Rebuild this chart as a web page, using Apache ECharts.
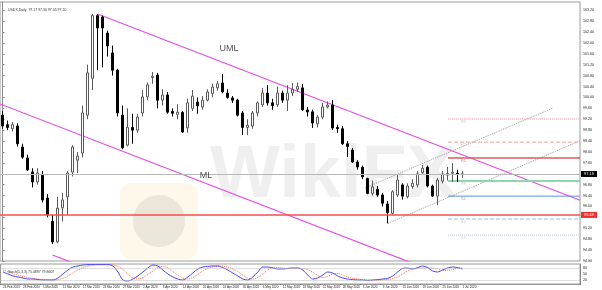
<!DOCTYPE html>
<html><head><meta charset="utf-8">
<script src="https://cdn.jsdelivr.net/npm/echarts@6/dist/echarts.min.js"></script>
<style>html,body{margin:0;padding:0;background:#fff}#c{width:602px;height:290px}</style>
</head><body><div id="c"></div>
<script>
const dates = ['24 Feb 2020','25 Feb 2020','26 Feb 2020','27 Feb 2020','28 Feb 2020',
'2 Mar 2020','3 Mar 2020','4 Mar 2020','5 Mar 2020','6 Mar 2020','9 Mar 2020','10 Mar 2020','11 Mar 2020','12 Mar 2020','13 Mar 2020','16 Mar 2020','17 Mar 2020','18 Mar 2020','19 Mar 2020','20 Mar 2020','23 Mar 2020','24 Mar 2020','25 Mar 2020','26 Mar 2020','27 Mar 2020','30 Mar 2020','31 Mar 2020',
'1 Apr 2020','2 Apr 2020','3 Apr 2020','6 Apr 2020','7 Apr 2020','8 Apr 2020','9 Apr 2020','10 Apr 2020','13 Apr 2020','14 Apr 2020','15 Apr 2020','16 Apr 2020','17 Apr 2020','20 Apr 2020','21 Apr 2020','22 Apr 2020','23 Apr 2020','24 Apr 2020','27 Apr 2020','28 Apr 2020','29 Apr 2020','30 Apr 2020',
'1 May 2020','4 May 2020','5 May 2020','6 May 2020','7 May 2020','8 May 2020','11 May 2020','12 May 2020','13 May 2020','14 May 2020','15 May 2020','18 May 2020','19 May 2020','20 May 2020','21 May 2020','22 May 2020','25 May 2020','26 May 2020','27 May 2020','28 May 2020','29 May 2020',
'1 Jun 2020','2 Jun 2020','3 Jun 2020','4 Jun 2020','5 Jun 2020','8 Jun 2020','9 Jun 2020','10 Jun 2020','11 Jun 2020','12 Jun 2020','15 Jun 2020','16 Jun 2020','17 Jun 2020','18 Jun 2020','19 Jun 2020','22 Jun 2020','23 Jun 2020','24 Jun 2020','25 Jun 2020','26 Jun 2020','29 Jun 2020','30 Jun 2020',
'1 Jul 2020'];
const futureSlots = ['f1','f2','f3','f4','f5','f6','f7','f8','f9','f10','f11','f12','f13','f14','f15','f16','f17','f18','f19','f20','f21','f22','f23'];

const opens  = [99.35,99.00,98.85,98.95,98.18,97.78,97.26,96.90,97.15,96.31,95.45,94.70,95.95,96.35,97.26,97.70,97.96,99.35,100.70,103.00,102.95,102.36,101.63,101.00,99.35,98.25,98.90,98.80,99.43,100.02,100.73,100.82,99.90,100.09,99.48,99.38,99.45,98.88,99.60,99.83,99.65,99.90,100.15,100.35,100.53,100.16,99.98,99.90,99.43,98.90,98.95,99.43,99.73,100.16,99.80,99.73,100.16,99.90,100.16,100.30,100.35,99.54,99.47,99.03,99.28,99.65,99.72,98.90,98.85,98.30,98.07,97.63,97.44,97.03,96.48,96.63,96.42,96.09,95.75,96.42,96.79,96.36,96.73,96.79,97.24,97.44,96.75,96.38,96.93,97.15,97.22,97.22,97.17];
const highs  = [99.50,99.15,99.10,99.05,98.30,97.90,97.40,97.40,97.30,96.45,95.70,96.35,96.50,97.30,98.25,98.00,99.70,101.20,103.06,103.06,103.00,102.45,101.90,101.05,99.70,99.60,99.40,99.40,100.27,100.55,100.93,100.90,100.30,100.20,99.60,99.75,99.50,99.95,100.27,100.00,100.05,100.30,100.50,100.60,100.86,100.30,100.05,99.95,99.50,99.20,99.50,99.85,100.35,100.45,99.95,100.40,100.25,100.45,100.53,100.55,100.50,99.65,99.55,99.35,99.80,99.85,99.90,99.00,98.95,98.40,98.15,97.70,97.50,97.05,96.95,96.75,96.50,96.20,96.60,97.15,96.85,96.85,97.00,97.30,97.52,97.50,96.80,97.05,97.30,97.45,97.59,97.35,97.30];
const lows   = [98.85,98.80,98.75,98.20,97.75,97.30,96.70,96.80,96.15,95.60,94.62,94.65,95.45,95.70,97.10,97.23,97.80,99.20,100.27,101.00,101.10,101.50,100.80,99.30,98.10,98.20,98.30,98.70,99.30,99.90,100.50,99.60,99.70,99.40,99.30,99.20,98.70,98.70,99.50,99.40,99.55,99.85,100.00,100.25,100.15,99.95,99.80,99.30,98.62,98.62,98.85,99.30,99.65,99.70,99.55,99.65,99.80,99.50,100.05,100.20,99.50,99.30,98.88,98.90,99.20,99.60,98.80,98.70,98.25,97.81,97.60,97.35,97.00,96.45,96.40,96.35,96.00,95.38,95.70,96.35,96.25,96.30,96.65,96.70,97.20,96.70,96.35,96.05,96.85,96.95,96.90,96.90,97.05];
const closes = [98.95,98.90,99.00,98.30,97.81,97.34,96.90,97.23,96.24,95.69,94.70,95.94,96.24,97.23,98.18,97.85,99.43,100.90,103.00,102.55,102.55,101.89,101.00,99.43,98.15,98.90,98.80,99.28,100.02,100.46,100.78,99.90,100.09,99.46,99.42,99.46,98.73,99.80,100.05,99.69,99.90,100.20,100.38,100.50,100.20,100.00,99.90,99.35,98.90,98.98,99.43,99.80,100.16,99.80,99.70,100.16,99.90,100.16,100.30,100.40,99.54,99.47,99.06,99.28,99.65,99.72,98.88,98.85,98.30,98.20,97.63,97.45,97.09,96.48,96.72,96.42,96.12,95.77,96.54,96.97,96.38,96.75,96.85,97.20,97.40,96.75,96.38,96.97,97.19,97.21,97.26,97.18,97.20];

const stochMain   = [60,50,40,35,30,25,25,22,20,20,20,30,50,70,85,90,95,97,97,97,97,97,90,60,20,15,25,40,60,80,95,90,70,50,35,25,20,35,55,75,85,88,90,90,82,70,55,40,25,20,35,60,85,85,80,75,75,78,80,80,70,45,25,30,45,60,55,40,30,25,22,20,20,18,20,22,25,28,40,60,78,80,75,82,90,82,65,60,70,80,85,82,75];
const stochSignal = [70,62,52,44,38,32,28,25,22,21,20,22,28,40,55,70,82,90,95,97,97,97,96,88,72,50,30,25,32,48,65,82,88,80,62,45,30,25,32,48,65,78,86,89,89,85,75,62,45,30,25,32,50,70,82,83,80,77,77,78,78,72,58,42,32,38,50,52,45,35,28,24,21,20,19,19,21,23,27,35,50,65,75,78,80,82,80,75,68,68,72,78,80];

const yTicksMain = {min: 94, max: 103.5, step: 0.4};
const lastPrice = 97.19;
const supportLevel = 95.69;

// Andrews pitchfork and channel: [barIndex, price] endpoints
const umlLine = [[19, 103.06], [115.5, 96.23]];
const mlLine  = [[-0.5, 99.76], [115.5, 91.55]];
const lmlLine = [[10, 94.22], [40, 92.1]];
const chanUpper = [[72.5, 96.68], [110.1, 99.61]];
const chanLower = [[77.1, 95.38], [115.5, 98.41]];

const pivotNames  = ['R3','R2','R1','PP','S1','S2','S3'];
const pivotValues = [99.21, 98.36, 97.78, 96.93, 96.38, 95.54, 94.95];
const pivotStart = 89.1, pivotEnd = 115.5, pivotLabelAt = 92.2;
const pivotColors = ['#e9a3a3','#e9a3a3','#d95c5c','#8ed7ae','#5b8ee0','#9fbbe8','#b6cbef'];
const pivotTypes  = ['dotted','dashed','solid','solid','solid','dashed','dotted'];
const pivotWidths = [1,1,1.5,2,1,1,1];

const cats = dates.concat(futureSlots);
const nBars = dates.length;
const candleData = dates.map((d, i) => [opens[i], closes[i], lows[i], highs[i]]);

const chart = echarts.init(document.getElementById('c'), null, {renderer: 'canvas'});

const lineStyleSeries = (name, data, color, type, width) => ({
  name, type: 'line', xAxisIndex: 2, yAxisIndex: 0, data, showSymbol: false, symbol: 'none',
  lineStyle: {color, type, width}, silent: true, clip: true, z: 3, animation: false
});

const series = [
  {
    type: 'candlestick', xAxisIndex: 0, yAxisIndex: 0, data: candleData, barWidth: 3,
    itemStyle: {color: '#ffffff', color0: '#000000', borderColor: '#5a5a5a', borderColor0: '#000000', borderWidth: 1},
    z: 4,
    markLine: {
      symbol: 'none', silent: true, animation: false,
      data: [
        {yAxis: lastPrice, lineStyle: {color: '#b8b8b8', width: 1, type: 'solid'},
         label: {show: true, position: 'end', distance: 1, formatter: lastPrice.toFixed(2), color: '#fff', backgroundColor: '#000', fontSize: 4, padding: [1, 3]}},
        {yAxis: supportLevel, lineStyle: {color: '#f05050', width: 1.5, type: 'solid'},
         label: {show: true, position: 'end', distance: 1, formatter: supportLevel.toFixed(2), color: '#fff', backgroundColor: '#e8322f', fontSize: 4, padding: [1, 3]}}
      ]
    }
  },
  lineStyleSeries('UML', umlLine, '#e64ce6', 'solid', 1.2),
  lineStyleSeries('ML', mlLine, '#e64ce6', 'solid', 1.2),
  lineStyleSeries('LML', lmlLine, '#e64ce6', 'solid', 1.2),
  lineStyleSeries('chanU', chanUpper, '#9a9a9a', 'dotted', 1),
  lineStyleSeries('chanL', chanLower, '#9a9a9a', 'dotted', 1)
];
pivotNames.forEach((n, k) => {
  series.push(lineStyleSeries(n, [[pivotStart, pivotValues[k]], [pivotEnd, pivotValues[k]]], pivotColors[k], pivotTypes[k], pivotWidths[k]));
});
series.push({
  type: 'scatter', xAxisIndex: 2, yAxisIndex: 0, symbolSize: 0, silent: true, z: 5,
  data: pivotNames.map((n, k) => ({name: n, value: [pivotLabelAt, pivotValues[k]],
    label: {show: true, position: 'bottom', distance: 1, formatter: n, fontSize: 4, color: pivotColors[k]}}))
});
series.push({
  type: 'scatter', xAxisIndex: 2, yAxisIndex: 0, symbolSize: 0, silent: true, z: 5,
  data: [
    {name: 'UML', value: [45.3, 101.81]},
    {name: 'ML', value: [40.7, 97.15]}
  ],
  label: {show: true, position: 'inside', formatter: p => p.name, fontSize: 9, color: '#222', fontFamily: 'Liberation Sans, Arial'}
});
series.push({
  name: 'main', type: 'line', xAxisIndex: 1, yAxisIndex: 1, data: stochMain, showSymbol: false, symbol: 'none',
  lineStyle: {color: '#4646ff', width: 1}, smooth: 0.3, z: 4,
  markLine: {symbol: 'none', silent: true, animation: false, label: {show: false},
    lineStyle: {color: '#bdbdbd', type: 'dotted', width: 1},
    data: [{yAxis: 80}, {yAxis: 20}]}
});
series.push({
  name: 'signal', type: 'line', xAxisIndex: 1, yAxisIndex: 1, data: stochSignal, showSymbol: false, symbol: 'none',
  lineStyle: {color: '#ff6f4f', width: 1, type: 'dotted'}, smooth: 0.3, z: 3
});

const option = {
  animation: false,
  backgroundColor: '#ffffff',
  title: [
    {text: 'USDX,Daily  97.17 97.30 97.05 97.20', left: 3, top: 3, textStyle: {fontSize: 3.5, fontWeight: 'normal', color: '#333'}},
    {text: 'Stoch(5,3,3) 75.4897 79.8607', left: 3, top: 265, textStyle: {fontSize: 3.5, fontWeight: 'normal', color: '#333'}}
  ],
  grid: [
    {left: 0, right: 22, top: 2, height: 259, show: true, borderColor: '#9a9a9a', borderWidth: 1, backgroundColor: 'transparent'},
    {left: 0, right: 22, top: 264, height: 20, show: true, borderColor: '#9a9a9a', borderWidth: 1, backgroundColor: 'transparent'}
  ],
  xAxis: [
    {type: 'category', gridIndex: 0, data: cats, boundaryGap: true,
     axisLine: {show: false}, axisTick: {show: false}, axisLabel: {show: false}, splitLine: {show: false}},
    {type: 'category', gridIndex: 1, data: cats, boundaryGap: true,
     axisLine: {show: true, lineStyle: {color: '#9a9a9a'}},
     axisTick: {show: true, length: 1, interval: (i) => i < nBars && i % 4 === 0, lineStyle: {color: '#777'}},
     axisLabel: {show: true, fontSize: 3, color: '#222', margin: 1.5, align: 'left',
       interval: (i) => i < nBars && i % 4 === 0},
     splitLine: {show: false}},
    {type: 'value', gridIndex: 0, min: -0.5, max: cats.length - 0.5, show: false, splitLine: {show: false}}
  ],
  yAxis: [
    {type: 'value', gridIndex: 0, position: 'right', min: yTicksMain.min, max: yTicksMain.max, interval: yTicksMain.step,
     axisLine: {show: true, lineStyle: {color: '#8a8a8a'}},
     axisTick: {show: true, length: 2, lineStyle: {color: '#8a8a8a'}},
     axisLabel: {show: true, fontSize: 3.6, color: '#222', margin: 3, showMaxLabel: false, formatter: v => v.toFixed(2)},
     splitLine: {show: false}},
    {type: 'value', gridIndex: 1, position: 'right', min: 0, max: 100, interval: 10,
     axisLine: {show: true, lineStyle: {color: '#8a8a8a'}},
     axisTick: {show: false},
     axisLabel: {show: true, fontSize: 3.6, color: '#222', margin: 3,
       formatter: v => (v === 80 || v === 50 || v === 20) ? String(v) : ''},
     splitLine: {show: false}}
  ],
  graphic: [
    {type: 'rect', left: 120, top: 183, shape: {width: 78, height: 76, r: 12}, style: {fill: 'rgba(246,214,140,0.18)'}, silent: true, z: -10},
    {type: 'circle', shape: {cx: 159, cy: 221, r: 26}, style: {fill: 'rgba(150,150,150,0.18)'}, silent: true, z: -10},
    {type: 'text', left: 210, top: 140, style: {text: 'WikiFX', font: 'bold 74px "Liberation Sans", Arial', fill: 'rgba(150,150,150,0.15)'}, silent: true, z: -10}
  ],
  series
};
chart.setOption(option);
</script>
</body></html>
